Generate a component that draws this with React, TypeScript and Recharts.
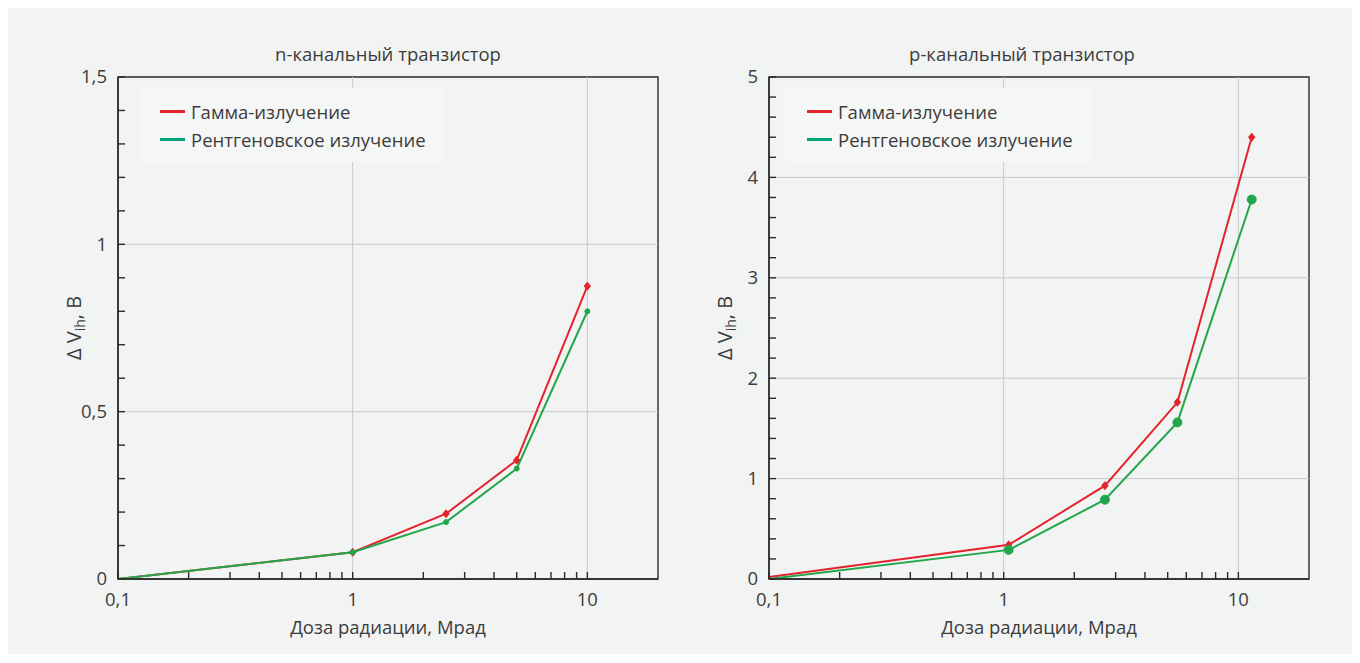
import React from 'react';
import { LineChart, Line, XAxis, YAxis, ReferenceLine, ReferenceArea, Legend } from 'recharts';

const FONT = '"Open Sans", "Noto Sans", sans-serif';

// n-channel transistor
const doseN = [0.1, 1, 2.5, 5, 10];
const gammaN = [0, 0.08, 0.195, 0.355, 0.875];
const xrayN = [0, 0.08, 0.17, 0.33, 0.8];

// p-channel transistor
const doseP = [0.1, 1.05, 2.7, 5.5, 11.4];
const gammaP = [0.02, 0.34, 0.93, 1.76, 4.4];
const xrayP = [0, 0.29, 0.79, 1.56, 3.78];

const xTicks = [0.1, 0.2, 0.3, 0.4, 0.5, 0.6, 0.7, 0.8, 0.9, 1, 2, 3, 4, 5, 6, 7, 8, 9, 10];
const xTickLabels: Record<string, string> = { '0.1': '0,1', '1': '1', '10': '10' };
const xGrid = [1, 10];

const yTicksN = [0, 0.1, 0.2, 0.3, 0.4, 0.5, 0.6, 0.7, 0.8, 0.9, 1, 1.1, 1.2, 1.3, 1.4, 1.5];
const yTickLabelsN: Record<string, string> = { '0': '0', '0.5': '0,5', '1': '1', '1.5': '1,5' };
const yGridN = [0.5, 1];

const yTicksP = [0, 0.2, 0.4, 0.6, 0.8, 1, 1.2, 1.4, 1.6, 1.8, 2, 2.2, 2.4, 2.6, 2.8, 3, 3.2, 3.4, 3.6, 3.8, 4, 4.2, 4.4, 4.6, 4.8, 5];
const yTickLabelsP: Record<string, string> = { '0': '0', '1': '1', '2': '2', '3': '3', '4': '4', '5': '5' };
const yGridP = [1, 2, 3, 4];

const seriesNames = ['Гамма-излучение', 'Рентгеновское излучение'];
const titles = ['n-канальный транзистор', 'p-канальный транзистор'];
const xTitle = 'Доза радиации, Мрад';

const RED = '#e4232d';
const GREEN = '#22a64c';
const LEGEND_GREEN = '#00a67a';
const AXIS = '#2a2a2a';
const TEXT = '#3c3c3c';
const GRID = '#c9c9c9';
const BG = '#f2f3f3';

const FS = 18.5;
const W = 672;
const H = 646;

const XTick = (props: any) => {
  const { x, y, payload } = props;
  const label = xTickLabels[String(payload.value)];
  return (
    <g>
      <line x1={x} x2={x} y1={y} y2={y - 7} stroke={AXIS} strokeWidth={1.4} />
      {label ? (
        <text x={x} y={y + 27} textAnchor="middle" fontSize={FS} fill={TEXT} fontFamily={FONT}>
          {label}
        </text>
      ) : null}
    </g>
  );
};

const makeYTick = (labels: Record<string, string>) => (props: any) => {
  const { x, y, payload } = props;
  const label = labels[String(payload.value)];
  return (
    <g>
      <line x1={x} x2={x + 7} y1={y} y2={y} stroke={AXIS} strokeWidth={1.4} />
      {label ? (
        <text x={x - 11} y={y} dy="0.35em" textAnchor="end" fontSize={FS} fill={TEXT} fontFamily={FONT}>
          {label}
        </text>
      ) : null}
    </g>
  );
};

const diamond = (size: number) => (p: any) => {
  const { cx, cy, index } = p;
  if (index === 0 || cx == null) return <g key={`d${index}`} />;
  return (
    <path
      key={`d${index}`}
      d={`M${cx},${cy - size} L${cx + size * 0.8},${cy} L${cx},${cy + size} L${cx - size * 0.8},${cy} Z`}
      fill={RED}
      stroke={RED}
      strokeWidth={1}
    />
  );
};

const circle = (r: number) => (p: any) => {
  const { cx, cy, index } = p;
  if (index === 0 || cx == null) return <g key={`c${index}`} />;
  return <circle key={`c${index}`} cx={cx} cy={cy} r={r} fill={GREEN} stroke={GREEN} strokeWidth={1} />;
};

const YLabel = (props: any) => {
  const vb = props.viewBox || {};
  const cx = vb.x + vb.width - 44;
  const cy = vb.y + vb.height / 2;
  return (
    <text
      transform={`rotate(-90, ${cx}, ${cy})`}
      x={cx}
      y={cy}
      dy="0.35em"
      textAnchor="middle"
      fontSize={20}
      fill={TEXT}
      fontFamily={FONT}
    >
      Δ V<tspan fontSize={14} dy={4}>ih</tspan>
      <tspan dy={-4}>, В</tspan>
    </text>
  );
};

const XLabel = (props: any) => {
  const vb = props.viewBox || {};
  return (
    <text
      x={vb.x + vb.width / 2}
      y={vb.y + 49}
      dy="0.35em"
      textAnchor="middle"
      fontSize={FS}
      fill={TEXT}
      fontFamily={FONT}
    >
      {xTitle}
    </text>
  );
};

const LegendBox = ({ inset }: { inset: number }) => (
  <div style={{ position: 'relative', width: 307, height: 74, background: '#f5f6f6', fontFamily: FONT }}>
    {[RED, LEGEND_GREEN].map((c, i) => (
      <div key={i} style={{ position: 'absolute', left: inset, top: 23 + i * 28 - 13, height: 26, display: 'flex', alignItems: 'center' }}>
        <div style={{ width: 25, height: 3, background: c }} />
        <span style={{ marginLeft: 6, fontSize: FS, color: TEXT, whiteSpace: 'nowrap' }}>{seriesNames[i]}</span>
      </div>
    ))}
  </div>
);

type PanelProps = {
  dose: number[];
  gamma: number[];
  xray: number[];
  yTicks: number[];
  yLabels: Record<string, string>;
  yGrid: number[];
  yMax: number;
  marginLeft: number;
  marginRight: number;
  legendLeft: number;
  legendInset: number;
  redSize: number;
  greenR: number;
};

const Panel = (pp: PanelProps) => {
  const data = pp.dose.map((d, i) => ({ dose: d, gamma: pp.gamma[i], xray: pp.xray[i] }));
  return (
    <LineChart width={W} height={H} data={data} margin={{ top: 69, right: pp.marginRight, bottom: 15, left: pp.marginLeft }}>
      {pp.yGrid.map((v) => (
        <ReferenceLine key={`gy${v}`} y={v} stroke={GRID} strokeWidth={1} />
      ))}
      {xGrid.map((v) => (
        <ReferenceLine key={`gx${v}`} x={v} stroke={GRID} strokeWidth={1} />
      ))}
      <ReferenceArea x1={0.1} x2={20} y1={0} y2={pp.yMax} fill="none" stroke={AXIS} strokeWidth={1.4} fillOpacity={0} />
      <XAxis
        dataKey="dose"
        type="number"
        scale="log"
        domain={[0.1, 20]}
        allowDataOverflow
        ticks={xTicks}
        interval={0}
        tickSize={0}
        tickMargin={0}
        tickLine={false}
        tick={<XTick />}
        height={60}
        axisLine={{ stroke: AXIS, strokeWidth: 1.4 }}
        label={{ content: XLabel }}
      />
      <YAxis
        type="number"
        domain={[0, pp.yMax]}
        allowDataOverflow
        ticks={pp.yTicks}
        interval={0}
        tickSize={0}
        tickMargin={0}
        tickLine={false}
        tick={makeYTick(pp.yLabels)}
        width={60}
        axisLine={{ stroke: AXIS, strokeWidth: 1.4 }}
        label={{ content: YLabel }}
      />
      <Legend
        layout="vertical"
        align="center"
        verticalAlign="middle"
        wrapperStyle={{ left: pp.legendLeft, top: 80, width: 307, height: 74 }}
        content={() => <LegendBox inset={pp.legendInset} />}
      />
      <Line
        dataKey="gamma"
        name={seriesNames[0]}
        stroke={RED}
        strokeWidth={2}
        dot={diamond(pp.redSize)}
        activeDot={false}
        isAnimationActive={false}
      />
      <Line
        dataKey="xray"
        name={seriesNames[1]}
        stroke={GREEN}
        strokeWidth={2}
        dot={circle(pp.greenR)}
        activeDot={false}
        isAnimationActive={false}
      />
    </LineChart>
  );
};

const Title = ({ text, left }: { text: string; left: number }) => (
  <div
    style={{
      position: 'absolute',
      left,
      top: 33,
      width: 400,
      marginLeft: -200,
      textAlign: 'center',
      fontFamily: FONT,
      fontSize: FS,
      color: TEXT,
    }}
  >
    {text}
  </div>
);

export default function App() {
  return (
    <div style={{ position: 'relative', width: 1344, height: 646, background: BG, overflow: 'hidden' }}>
      <div style={{ position: 'absolute', left: 0, top: 0 }}>
        <Panel
          dose={doseN}
          gamma={gammaN}
          xray={xrayN}
          yTicks={yTicksN}
          yLabels={yTickLabelsN}
          yGrid={yGridN}
          yMax={1.5}
          marginLeft={50}
          marginRight={22}
          legendLeft={131}
          legendInset={21}
          redSize={4}
          greenR={2.5}
        />
      </div>
      <div style={{ position: 'absolute', left: 672, top: 0 }}>
        <Panel
          dose={doseP}
          gamma={gammaP}
          xray={xrayP}
          yTicks={yTicksP}
          yLabels={yTickLabelsP}
          yGrid={yGridP}
          yMax={5}
          marginLeft={29}
          marginRight={43}
          legendLeft={105}
          legendInset={22}
          redSize={4}
          greenR={4.5}
        />
      </div>
      <Title text={titles[0]} left={380} />
      <Title text={titles[1]} left={1014} />
    </div>
  );
}
